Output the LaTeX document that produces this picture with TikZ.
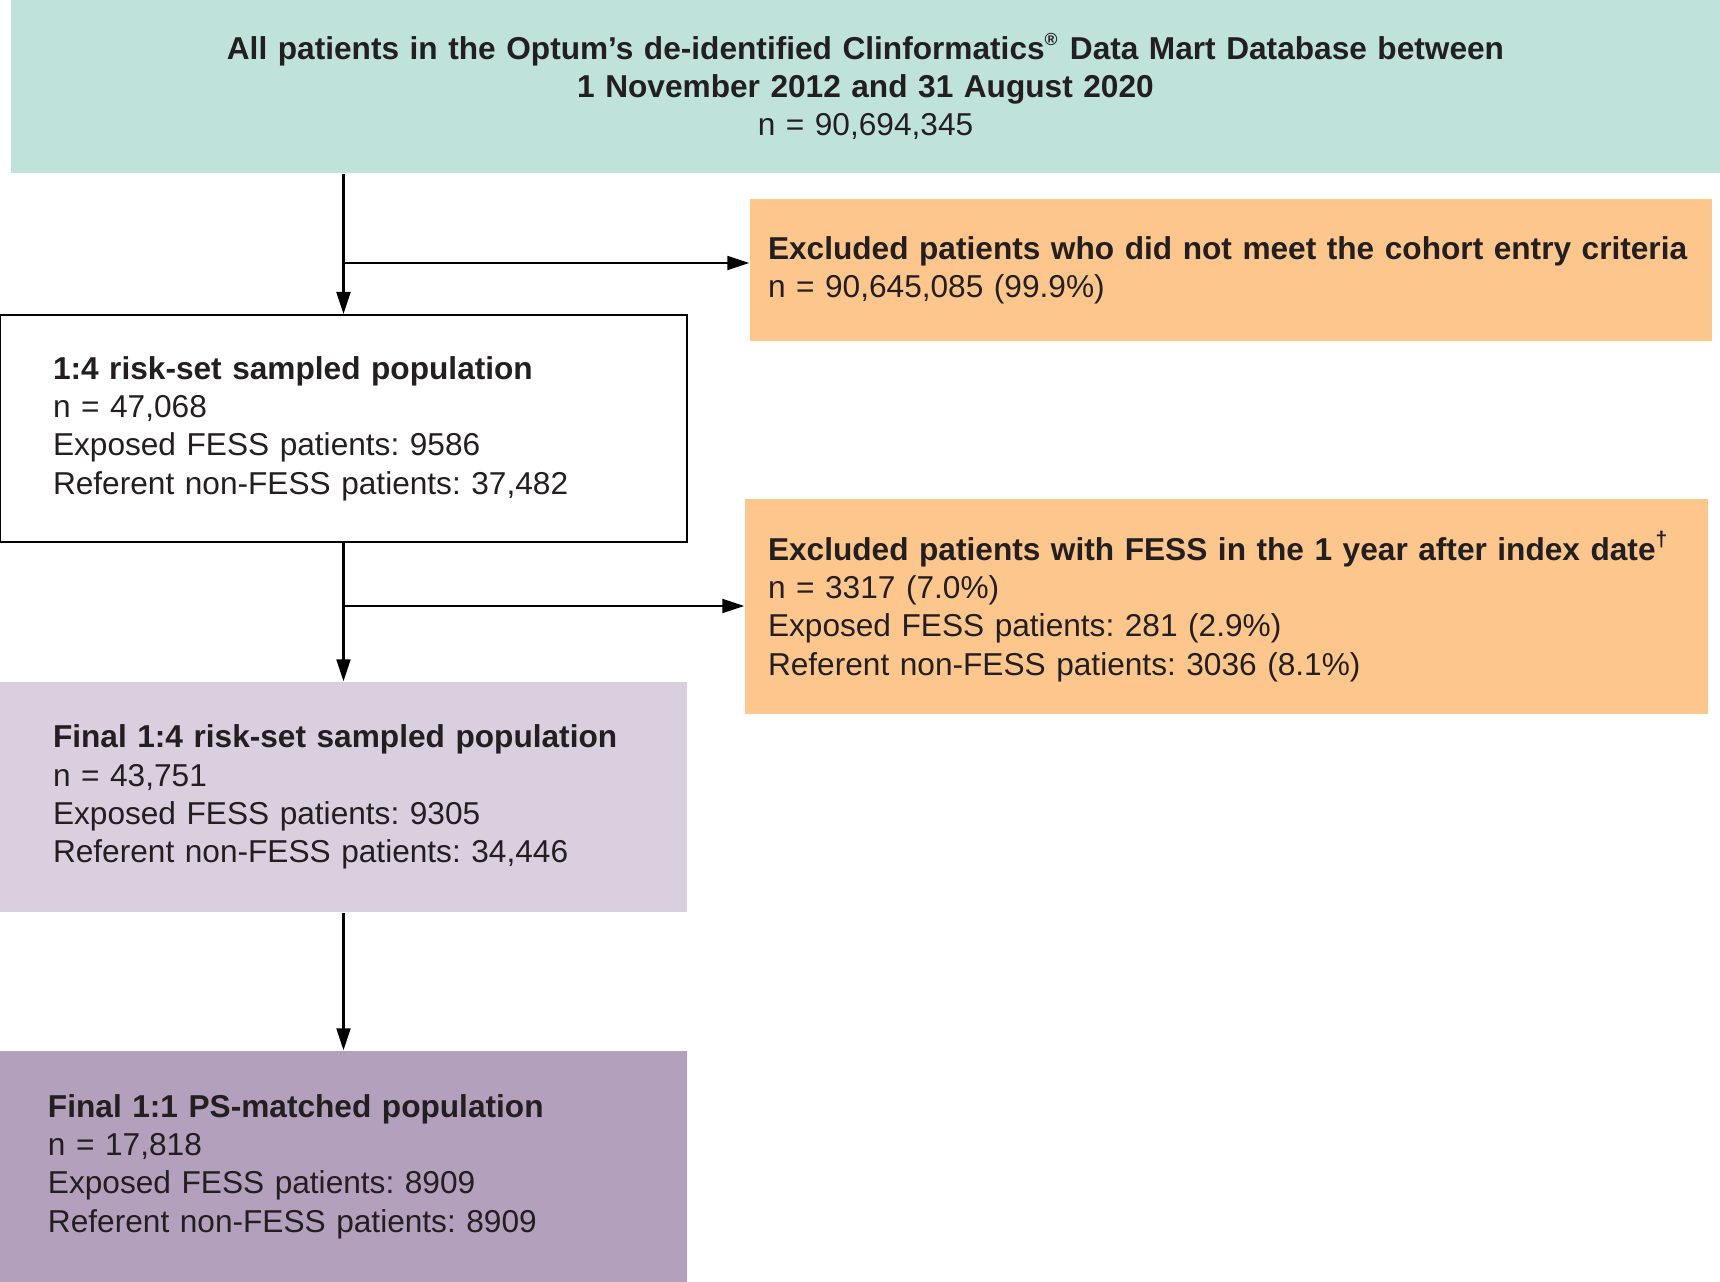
\documentclass[tikz,border=0pt]{standalone}
\usepackage{fontspec}
\setmainfont{Liberation Sans}
\usepackage{xcolor}
\usetikzlibrary{arrows.meta}

\definecolor{allteal}{RGB}{191,227,219}
\definecolor{exclorange}{RGB}{253,198,140}
\definecolor{finlilac}{RGB}{217,207,223}
\definecolor{pspurple}{RGB}{179,160,189}
\definecolor{txtgray}{RGB}{35,31,32}

\begin{document}
\frenchspacing
\begin{tikzpicture}[
      box/.style={align=left, font=\fontsize{9}{10.9}\selectfont, text=txtgray, inner ysep=0pt, minimum width=6.87cm, inner xsep=0.53cm, text width=5.81cm},
      arr/.style={-{Triangle[length=2.2mm, width=1.4mm]}, line width=0.6pt},
    ]
    \useasboundingbox (0,0) rectangle (17.2,-12.82);
    \node[box, fill=allteal, align=center, minimum width=17.09cm, minimum height=1.73cm, inner xsep=0.3cm, text width=16cm] (all) at (8.655,-0.865) {\textbf{All patients in the Optum’s de-identified Clinformatics\textsuperscript{\tiny ®} Data Mart Database between}\\\textbf{1 November 2012 and 31 August 2020}\\n = 90,694,345};
    \node[box, fill=exclorange, minimum width=9.62cm, minimum height=1.42cm, inner xsep=0.18cm, text width=9.26cm] (excl1) at (12.31,-2.70) {\textbf{Excluded patients who did not meet the cohort entry criteria}\\n = 90,645,085 (99.9\%)};
    \node[box, draw, line width=0.6pt, minimum height=2.27cm] (pop4) at (3.435,-4.285) {\textbf{1:4 risk-set sampled population}\\n = 47,068\\Exposed FESS patients: 9586\\Referent non-FESS patients: 37,482};
    \node[box, fill=exclorange, minimum width=9.63cm, minimum height=2.15cm, inner xsep=0.23cm, text width=9.17cm] (excl2) at (12.265,-6.065) {\textbf{Excluded patients with FESS in the 1 year after index date\textsuperscript{†}}\\n = 3317 (7.0\%)\\Exposed FESS patients: 281 (2.9\%)\\Referent non-FESS patients: 3036 (8.1\%)};
    \node[box, fill=finlilac, minimum height=2.30cm] (fin4) at (3.435,-7.97) {\textbf{Final 1:4 risk-set sampled population}\\n = 43,751\\Exposed FESS patients: 9305\\Referent non-FESS patients: 34,446};
    \node[box, fill=pspurple, minimum height=2.31cm, inner xsep=0.48cm, text width=5.91cm] (ps) at (3.435,-11.665) {\textbf{Final 1:1 PS-matched population}\\n = 17,818\\Exposed FESS patients: 8909\\Referent non-FESS patients: 8909};
    \coordinate (br1) at (3.435,-2.63);
    \coordinate (br2) at (3.435,-6.06);
    \draw[arr] (all.south -| pop4.north) -- (pop4.north);
    \draw[arr] (br1) -- (br1 -| excl1.west);
    \draw[arr] (pop4.south) -- (fin4.north);
    \draw[arr] (br2) -- (br2 -| excl2.west);
    \draw[arr] (fin4.south) -- (ps.north);
  \end{tikzpicture}
\end{document}
